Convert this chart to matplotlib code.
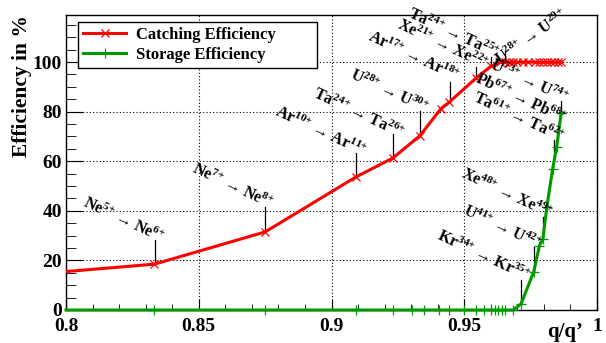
import matplotlib
matplotlib.use('Agg')
from matplotlib import pyplot as plt
from matplotlib.ticker import MultipleLocator

# catching efficiency (red) vs q/q'
catch_x = [0.8, 0.8333, 0.875, 0.9091, 0.9231, 0.9333, 0.9412, 0.9444, 0.9545, 0.96,
           0.9635, 0.9655, 0.967, 0.9685, 0.97, 0.9722, 0.974, 0.9767, 0.978, 0.9796,
           0.981, 0.9825, 0.9839, 0.9853, 0.9865]
catch_y = [15.5, 18.5, 31.5, 53.6, 61.3, 70.3, 81.2, 83.9, 93.6, 98.3,
           99.9, 100, 100, 100, 100, 100, 100, 100, 100, 100,
           100, 100, 100, 100, 100]

# storage efficiency (green)
store_x = [0.8, 0.8333, 0.875, 0.9091, 0.9231, 0.9302, 0.9348, 0.9405, 0.9444, 0.95,
           0.9545, 0.9574, 0.96, 0.9615, 0.9628, 0.9643, 0.9655, 0.9685, 0.9714, 0.9762,
           0.9783, 0.9796, 0.9811, 0.9833, 0.9848, 0.9865]
store_y = [0, 0, 0, 0, 0, 0, 0, 0, 0, 0,
           0, 0, 0, 0, 0, 0, 0, 0, 2.5, 15.5,
           26.0, 28.5, 41.5, 57.0, 65.7, 79.5]

# annotated charge exchange: ion, q, q', efficiency at that point
ions = ['Ne', 'Ne', 'Ar', 'Ta', 'U', 'Ar', 'Xe', 'Ta', 'U', 'U', 'Pb', 'Ta', 'Xe', 'U', 'Kr']
q_in = [5, 7, 10, 24, 28, 17, 21, 24, 28, 73, 67, 61, 48, 41, 34]
q_out = [6, 8, 11, 26, 30, 18, 22, 25, 29, 74, 68, 62, 49, 42, 35]
ion_eff = [18.5, 31.5, 53.6, 61.3, 70.3, 83.9, 93.6, 98.3, 100, 79.5, 69.0, 61.7, 28.5, 15.5, 2.5]

# layout of the labels: text centre (x, y), rotation, top of the marker line
lab_pos = [(0.8216, 36.2), (0.8626, 50.0), (0.8957, 71.8), (0.9101, 79.0), (0.9217, 87.9),
           (0.9307, 102.2), (0.9417, 107.0), (0.9459, 111.3), (0.9754, 110.0), (0.9744, 91.9),
           (0.9713, 85.2), (0.9706, 77.5), (0.966, 46.7), (0.9643, 33.3), (0.9572, 21.9)]
lab_rot = [-25, -25, -25, -25, -25, -25, -25, -25, 35, -25, -25, -25, -25, -25, -25]
line_top = [28.2, 41.4, 63.2, 71.1, 80.1, 91.9, 97.9, 102.2, 104.6, 84.5, 72.0, 68.4, 37.5, 25.5, 12.0]

SERIF = ['Liberation Serif', 'DejaVu Serif']
plt.rcParams['font.family'] = SERIF
plt.rcParams['font.weight'] = 'bold'
plt.rcParams['mathtext.fontset'] = 'custom'
plt.rcParams['mathtext.rm'] = 'Liberation Serif:bold'
plt.rcParams['mathtext.bf'] = 'Liberation Serif:bold'
plt.rcParams['mathtext.it'] = 'Liberation Serif:bold'

fig = plt.figure(figsize=(6.06, 3.43), dpi=100)
ax = fig.add_axes([66 / 606, 33 / 343, 531 / 606, 295 / 343])

ax.plot(catch_x, catch_y, color='#ff0000', lw=2.2, marker='x', ms=6, mew=0.9,
        markevery=list(range(1, len(catch_x))), label='Catching Efficiency', zorder=4)
ax.plot(store_x, store_y, color='#009900', lw=2.2, marker='+', ms=7, mew=0.9,
        markevery=list(range(1, len(store_x))), label='Storage Efficiency', zorder=4, clip_on=False)

for i in range(len(ions)):
    x = q_in[i] / q_out[i]
    ax.plot([x, x], [ion_eff[i], line_top[i]], color='black', lw=0.9, zorder=3)
    txt = (f'{ions[i]}$^{{{q_in[i]}{{+}}}}$ \u2192 {ions[i]}$^{{{q_out[i]}{{+}}}}$')
    ax.text(lab_pos[i][0], lab_pos[i][1], txt, rotation=lab_rot[i], rotation_mode='anchor',
            ha='center', va='center', fontsize=11.5, fontweight='bold', zorder=5)

ax.set_xlim(0.8, 1.0)
ax.set_ylim(0, 119)
ax.set_xticks([0.8, 0.85, 0.9, 0.95, 1.0])
ax.set_xticklabels(['0.8', '0.85', '0.9', '0.95', '1'])
ax.set_yticks([0, 20, 40, 60, 80, 100])
ax.xaxis.set_minor_locator(MultipleLocator(0.01))
ax.yaxis.set_minor_locator(MultipleLocator(5))
ax.tick_params(which='both', direction='in', top=False, right=False, labelsize=14)
ax.tick_params(axis='x', which='major', length=8, pad=6)
ax.tick_params(axis='x', which='minor', length=4)
ax.tick_params(axis='y', which='major', length=12, pad=3)
ax.tick_params(axis='y', which='minor', length=7)
for lab in ax.get_xticklabels() + ax.get_yticklabels():
    lab.set_fontweight('bold')
ax.grid(True, which='major', color='black', linestyle=(0, (1, 2)), lw=0.8)
for s in ax.spines.values():
    s.set_linewidth(1.0)

fig.text(22 / 606, 1 - 15 / 343, 'Efficiency in %', rotation=90, ha='center', va='top',
         fontsize=15.5, fontweight='bold')
fig.text(583 / 606, 11 / 343, 'q/q\u2019', ha='right', va='center', fontsize=15, fontweight='bold')

leg = ax.legend(loc='upper left', bbox_to_anchor=(0.0226, 0.8305, 0.4501, 0.1455), mode='expand',
                borderaxespad=0, fancybox=False, edgecolor='black', framealpha=1, fontsize=12,
                handlelength=2.6, handletextpad=0.6, borderpad=0.3, labelspacing=0.25)
leg.get_frame().set_linewidth(1.0)
leg.set_zorder(6)

fig.savefig('out.png', dpi=100)
